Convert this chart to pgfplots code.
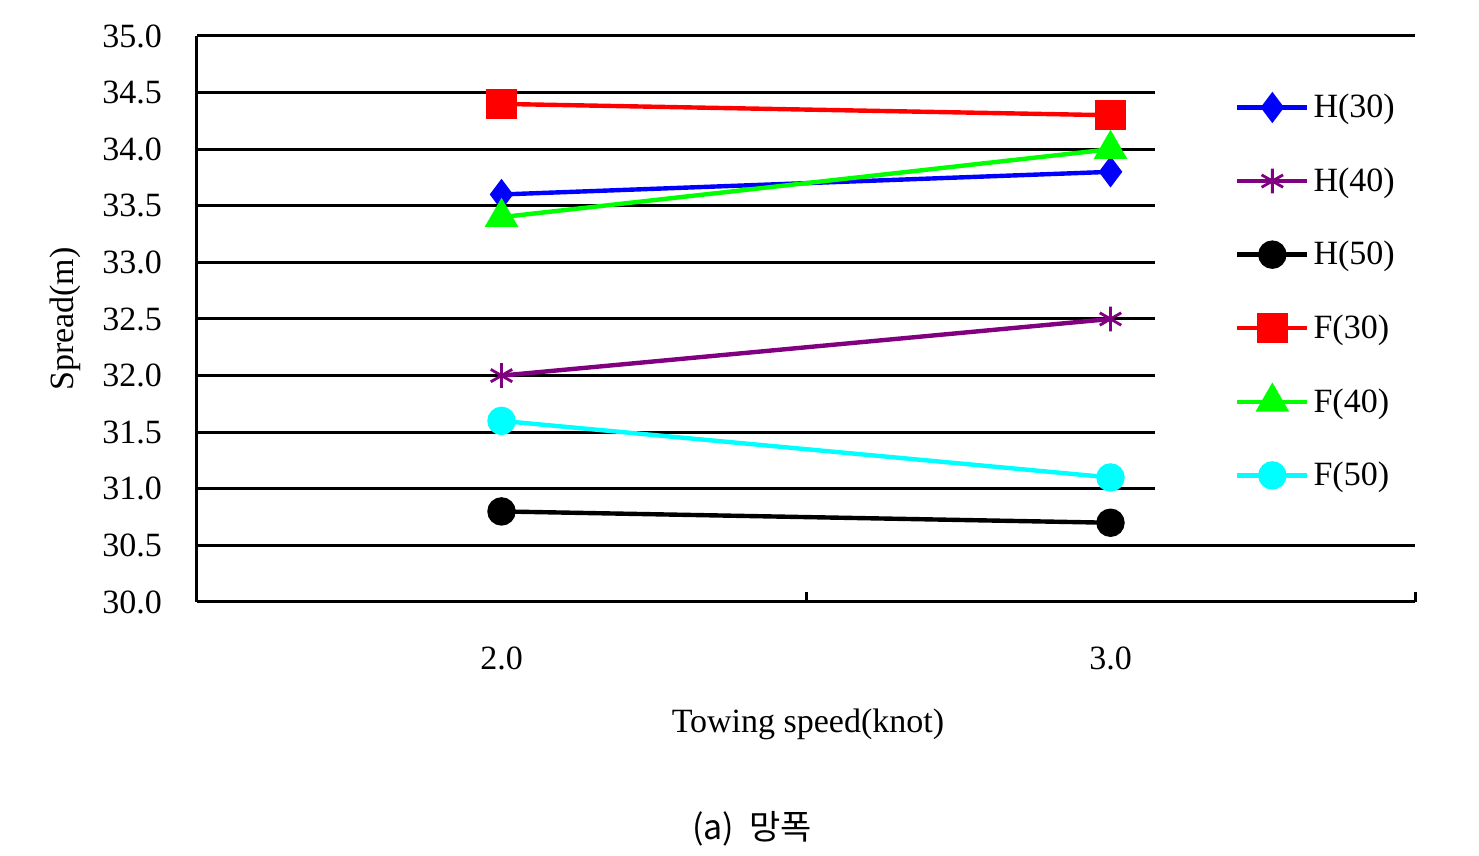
\documentclass[border=0pt]{standalone}
\usepackage{fontspec}
\setmainfont{Liberation Serif}
\newfontfamily\krfont{Noto Sans CJK KR}
\usepackage{pgfplots}
\pgfplotsset{compat=1.18}
\definecolor{cBlue}{RGB}{0,0,255}
\definecolor{cPurple}{RGB}{128,0,128}
\definecolor{cRed}{RGB}{255,0,0}
\definecolor{cGreen}{RGB}{0,255,0}
\definecolor{cCyan}{RGB}{0,255,255}
\begin{document}
\begin{tikzpicture}[x=1pt,y=1pt]
\useasboundingbox (0,0) rectangle (739.5,428);
\begin{axis}[
  at={(98.5pt,127pt)}, anchor=south west,
  scale only axis, width=609pt, height=283pt,
  xmin=0, xmax=2, ymin=30, ymax=35,
  axis x line*=bottom, axis y line*=left,
  axis line style={-, line width=1.5pt},
  major tick length=0pt,
  ytick={30,30.5,31,31.5,32,32.5,33,33.5,34,34.5,35},
  ymajorgrids, major grid style={black, line width=1.5pt},
  /pgf/number format/assume math mode=true,
  yticklabel style={font=\fontsize{17}{20}\selectfont, xshift=-14pt,
    /pgf/number format/fixed, /pgf/number format/fixed zerofill, /pgf/number format/precision=1},
  xtick={0.5,1.5}, xticklabels={2.0,3.0},
  xticklabel style={font=\fontsize{17}{20}\selectfont, yshift=-19pt},
  extra x ticks={1,2}, extra x tick labels={},
  extra x tick style={major tick length=5pt, tick align=inside, tick style={draw=black, line width=1.5pt}, grid=none},
  xlabel={Towing speed(knot)},
  ylabel={Spread(m)},
  xlabel style={font=\fontsize{17}{20}\selectfont, at={(axis description cs:0.5016,-0.2155)}, anchor=center},
  ylabel style={font=\fontsize{17}{20}\selectfont, at={(axis description cs:-0.108,0.5)}, anchor=center, rotate=0},
  every axis plot/.append style={line width=2.2pt},
  legend image code/.code={\draw[mark repeat=2,mark phase=2] plot coordinates {(0pt,0pt) (17.5pt,0pt) (35pt,0pt)};},
  legend style={draw=none, fill=none, at={(axis description cs:0.852,0.905)}, anchor=north west,
    inner sep=0pt, row sep=19.5pt, font=\fontsize{17}{20}\selectfont},
  legend cell align=left,
]
\fill[white] (rel axis cs:0.7865,0.145) rectangle (rel axis cs:1.01,0.957);
\addplot[color=cBlue, mark=diamond*, mark size=6pt] coordinates {(0.5,33.6) (1.5,33.8)};
\addlegendentry{H(30)}
\addplot[color=cPurple, mark=asterisk, mark size=6.2pt, mark options={line width=1.4pt}] coordinates {(0.5,32.0) (1.5,32.5)};
\addlegendentry{H(40)}
\addplot[color=black, mark=*, mark size=6pt] coordinates {(0.5,30.8) (1.5,30.7)};
\addlegendentry{H(50)}
\addplot[color=cRed, mark=square*, mark size=6.5pt] coordinates {(0.5,34.4) (1.5,34.3)};
\addlegendentry{F(30)}
\addplot[color=cGreen, mark=triangle*, mark size=7.5pt] coordinates {(0.5,33.4) (1.5,34.0)};
\addlegendentry{F(40)}
\addplot[color=cCyan, mark=*, mark size=6pt] coordinates {(0.5,31.6) (1.5,31.1)};
\addlegendentry{F(50)}
\end{axis}
\node[font=\krfont\fontsize{17}{20}\selectfont] at (376,13.5) {(a)\ \ 망폭};
\end{tikzpicture}
\end{document}
